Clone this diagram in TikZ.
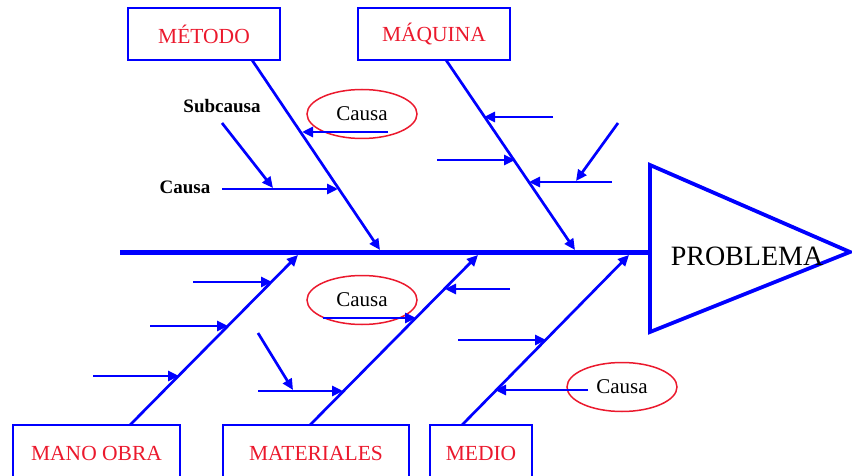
\documentclass[tikz,border=0pt]{standalone}
\usepackage{fontspec}
\setmainfont{Liberation Serif}
\usetikzlibrary{arrows.meta,shapes.geometric}
\definecolor{fblue}{RGB}{0,0,255}
\definecolor{fred}{RGB}{235,25,45}
\begin{document}
\begin{tikzpicture}[x=1pt,y=-1pt,
  catbox/.style={draw=fblue,line width=2.2pt,text=fred,font=\fontsize{21.5}{23}\selectfont,minimum height=52pt,inner sep=0pt},
  bone/.style={draw=fblue,line width=2.7pt,-{Triangle[length=11pt,width=10pt]}},
  cause/.style={draw=fblue,line width=2.7pt,-{Triangle[length=11pt,width=10pt]}},
  causeell/.style={ellipse,draw=fred,line width=1.5pt,minimum width=110pt,minimum height=49pt,inner sep=0pt,font=\fontsize{21}{23}\selectfont},
  lbl/.style={font=\bfseries\fontsize{19}{21}\selectfont,inner sep=0pt}]
\useasboundingbox (0,0) rectangle (852,476);

% category boxes
\node[catbox,minimum width=152pt] (metodo) at (204,34) {MÉTODO};
\node[catbox,minimum width=152pt] (maquina) at (434,34) {MÁQUINA};
\node[catbox,minimum width=167pt,minimum height=56pt] (mano) at (96.5,453) {MANO OBRA};
\node[catbox,minimum width=186pt,minimum height=56pt] (mat) at (316,453) {MATERIALES};
\node[catbox,minimum width=102pt,minimum height=56pt] (medio) at (481,453) {MEDIO};

% head
\coordinate (t1) at (650,165);
\coordinate (t2) at (650,332);
\coordinate (t3) at (850,252);
\draw[fblue,line width=3.8pt] (t1) -- (t3) -- (t2) -- cycle;
\node[font=\fontsize{28}{30}\selectfont] (prob) at (747,256) {PROBLEMA};

% spine
\coordinate (spL) at (120,252);
\coordinate (spR) at (650,252);
\draw[fblue,line width=5pt] (spL) -- (spR);

% bones
\coordinate (b1s) at (252,60);  \coordinate (b1e) at (380,250);
\coordinate (b2s) at (446,60);  \coordinate (b2e) at (575,250);
\coordinate (b3s) at (130,425); \coordinate (b3e) at (298,255);
\coordinate (b4s) at (310,425); \coordinate (b4e) at (478,255);
\coordinate (b5s) at (462,425); \coordinate (b5e) at (629,255);
\draw[bone] (b1s) -- (b1e);
\draw[bone] (b2s) -- (b2e);
\draw[bone] (b3s) -- (b3e);
\draw[bone] (b4s) -- (b4e);
\draw[bone] (b5s) -- (b5e);

% ellipses and labels
\node[causeell] (c1) at (362,114) {Causa};
\node[causeell] (c2) at (362,300) {Causa};
\node[causeell] (c3) at (622,387) {Causa};
\node[lbl] (l1) at (185,187) {Causa};
\node[lbl] (l2) at (222,106) {Subcausa};

% causes: metodo
\coordinate (a1s) at (388,132); \coordinate (a1e) at (302,132);
\coordinate (a2s) at (222,189); \coordinate (a2e) at (338,189);
\coordinate (a3s) at (222,123); \coordinate (a3e) at (273,188);
\draw[cause] (a1s) -- (a1e);
\draw[cause] (a2s) -- (a2e);
\draw[cause] (a3s) -- (a3e);

% causes: maquina
\coordinate (a4s) at (553,117); \coordinate (a4e) at (484,117);
\coordinate (a5s) at (437,160); \coordinate (a5e) at (515,160);
\coordinate (a6s) at (612,182); \coordinate (a6e) at (529,182);
\coordinate (a7s) at (618,123); \coordinate (a7e) at (576,181);
\draw[cause] (a4s) -- (a4e);
\draw[cause] (a5s) -- (a5e);
\draw[cause] (a6s) -- (a6e);
\draw[cause] (a7s) -- (a7e);

% causes: mano obra
\coordinate (a8s) at (193,282); \coordinate (a8e) at (272,282);
\coordinate (a9s) at (150,326); \coordinate (a9e) at (228,326);
\coordinate (a10s) at (93,376); \coordinate (a10e) at (179,376);
\draw[cause] (a8s) -- (a8e);
\draw[cause] (a9s) -- (a9e);
\draw[cause] (a10s) -- (a10e);

% causes: materiales
\coordinate (a11s) at (323,318); \coordinate (a11e) at (416,318);
\coordinate (a12s) at (510,289); \coordinate (a12e) at (445,289);
\coordinate (a13s) at (258,391); \coordinate (a13e) at (343,391);
\coordinate (a14s) at (258,333); \coordinate (a14e) at (293,390);
\draw[cause] (a11s) -- (a11e);
\draw[cause] (a12s) -- (a12e);
\draw[cause] (a13s) -- (a13e);
\draw[cause] (a14s) -- (a14e);

% causes: medio
\coordinate (a15s) at (458,340); \coordinate (a15e) at (546,340);
\coordinate (a16s) at (588,390); \coordinate (a16e) at (495,390);
\draw[cause] (a15s) -- (a15e);
\draw[cause] (a16s) -- (a16e);
\end{tikzpicture}
\end{document}
